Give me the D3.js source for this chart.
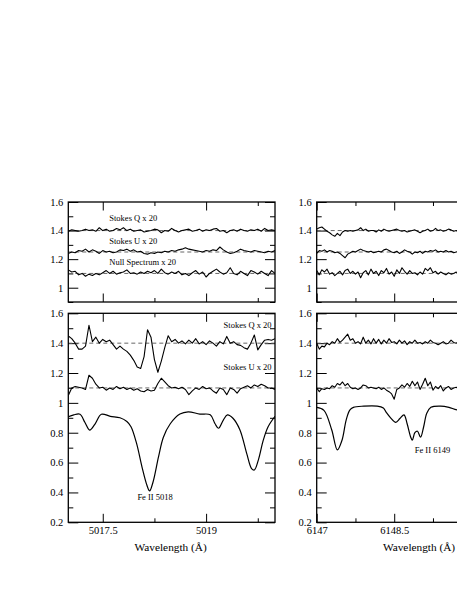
<!DOCTYPE html>
<html><head><meta charset="utf-8">
<script src="https://cdn.jsdelivr.net/npm/d3@7"></script>
<style>html,body{margin:0;padding:0;background:#fff;}svg{display:block;}</style>
</head><body>
<script>
// ---------------- DATA ----------------
// Left panels: Fe II 5018, wavelength grid start 5017.00, step 0.05 A
const leftStart = 5017.0, rightStart = 6147.0, gridStep = 0.05;

const leftTopQ = [1.395,1.405,1.40,1.395,1.40,1.41,1.40,1.405,1.395,1.42,1.40,1.41,1.395,1.40,1.415,1.405,1.42,1.40,1.41,1.395,1.40,1.405,1.39,1.395,1.40,1.41,1.405,1.385,1.40,1.395,1.415,1.40,1.39,1.40,1.405,1.41,1.395,1.40,1.41,1.395,1.405,1.40,1.41,1.415,1.395,1.40,1.385,1.40,1.405,1.395,1.41,1.40,1.395,1.405,1.40,1.41,1.395,1.415,1.40,1.405,1.40];
const leftTopU = [1.24,1.25,1.245,1.26,1.255,1.27,1.25,1.265,1.255,1.24,1.26,1.25,1.255,1.245,1.25,1.265,1.26,1.27,1.255,1.265,1.25,1.255,1.24,1.235,1.245,1.24,1.25,1.245,1.255,1.25,1.26,1.255,1.265,1.27,1.28,1.27,1.265,1.26,1.255,1.25,1.26,1.255,1.265,1.26,1.285,1.265,1.25,1.24,1.245,1.255,1.27,1.26,1.255,1.25,1.26,1.255,1.25,1.245,1.255,1.25,1.26];
const leftTopNull = [1.125,1.11,1.115,1.09,1.10,1.08,1.095,1.085,1.10,1.09,1.105,1.12,1.10,1.115,1.095,1.105,1.11,1.125,1.10,1.105,1.095,1.11,1.10,1.115,1.105,1.12,1.10,1.13,1.105,1.095,1.11,1.10,1.115,1.09,1.10,1.085,1.105,1.12,1.095,1.11,1.075,1.10,1.115,1.13,1.11,1.095,1.105,1.14,1.10,1.09,1.115,1.10,1.085,1.12,1.11,1.095,1.115,1.10,1.085,1.12,1.10];

const leftBotQ = [1.448,1.43,1.40,1.36,1.36,1.38,1.52,1.41,1.44,1.40,1.425,1.41,1.42,1.39,1.36,1.38,1.36,1.345,1.32,1.285,1.24,1.23,1.31,1.49,1.44,1.29,1.205,1.28,1.37,1.45,1.41,1.425,1.40,1.415,1.395,1.42,1.40,1.43,1.395,1.41,1.39,1.415,1.40,1.38,1.41,1.395,1.445,1.40,1.41,1.39,1.385,1.37,1.36,1.40,1.455,1.355,1.39,1.42,1.425,1.42,1.43];
const leftBotU = [1.05,1.10,1.11,1.105,1.10,1.09,1.185,1.165,1.125,1.10,1.105,1.085,1.10,1.09,1.11,1.095,1.105,1.09,1.10,1.085,1.095,1.08,1.075,1.09,1.08,1.085,1.13,1.165,1.14,1.115,1.10,1.105,1.095,1.105,1.09,1.055,1.08,1.10,1.09,1.11,1.095,1.10,1.08,1.065,1.10,1.09,1.055,1.10,1.09,1.065,1.095,1.105,1.115,1.10,1.12,1.11,1.125,1.115,1.10,1.10,1.09];
const leftIntensity = [[5017.00,0.907],[5017.08,0.92],[5017.17,0.924],[5017.24,0.87],[5017.31,0.818],[5017.39,0.86],[5017.48,0.924],[5017.61,0.91],[5017.75,0.90],[5017.85,0.875],[5017.91,0.84],[5017.99,0.73],[5018.07,0.57],[5018.14,0.45],[5018.18,0.41],[5018.23,0.47],[5018.31,0.64],[5018.38,0.77],[5018.48,0.86],[5018.62,0.925],[5018.74,0.94],[5018.91,0.925],[5019.06,0.92],[5019.13,0.86],[5019.18,0.83],[5019.25,0.885],[5019.31,0.92],[5019.39,0.897],[5019.49,0.82],[5019.59,0.66],[5019.66,0.56],[5019.70,0.55],[5019.76,0.62],[5019.83,0.75],[5019.90,0.84],[5020.00,0.91]];

// Right panels: Fe II 6149, grid start 6147.00, step 0.05 A
const rightTopQ = [1.41,1.42,1.425,1.41,1.395,1.385,1.37,1.36,1.38,1.365,1.39,1.40,1.395,1.40,1.395,1.40,1.405,1.42,1.40,1.41,1.395,1.40,1.40,1.39,1.405,1.395,1.41,1.40,1.395,1.40,1.405,1.41,1.40,1.395,1.40,1.39,1.395,1.40,1.405,1.395,1.385,1.395,1.40,1.41,1.395,1.40,1.415,1.40,1.405,1.395,1.40,1.41,1.405,1.395,1.40,1.39,1.40];
const rightTopU = [1.24,1.26,1.255,1.265,1.25,1.26,1.255,1.245,1.25,1.24,1.225,1.21,1.235,1.245,1.255,1.25,1.26,1.27,1.26,1.255,1.25,1.255,1.245,1.25,1.255,1.25,1.265,1.27,1.26,1.25,1.245,1.255,1.24,1.25,1.265,1.255,1.25,1.235,1.25,1.245,1.255,1.24,1.255,1.25,1.26,1.255,1.265,1.25,1.255,1.25,1.26,1.25,1.255,1.245,1.25,1.255,1.25];
const rightTopNull = [1.12,1.09,1.125,1.11,1.13,1.095,1.105,1.085,1.10,1.115,1.09,1.12,1.13,1.10,1.115,1.095,1.11,1.07,1.105,1.12,1.09,1.13,1.10,1.115,1.085,1.12,1.105,1.135,1.095,1.11,1.08,1.125,1.10,1.14,1.115,1.095,1.12,1.10,1.105,1.09,1.11,1.095,1.135,1.12,1.14,1.105,1.115,1.095,1.11,1.10,1.09,1.105,1.095,1.10,1.11,1.09,1.10];

const rightBotQ = [1.40,1.36,1.38,1.375,1.40,1.39,1.41,1.40,1.43,1.405,1.42,1.44,1.46,1.42,1.43,1.40,1.41,1.395,1.44,1.40,1.42,1.395,1.43,1.40,1.425,1.395,1.42,1.40,1.43,1.405,1.41,1.395,1.42,1.40,1.415,1.39,1.41,1.40,1.42,1.40,1.405,1.395,1.41,1.40,1.42,1.405,1.40,1.39,1.40,1.41,1.395,1.40,1.42,1.405,1.40,1.41,1.40];
const rightBotU = [1.10,1.075,1.095,1.09,1.10,1.095,1.115,1.105,1.13,1.12,1.14,1.115,1.13,1.105,1.095,1.10,1.09,1.10,1.12,1.115,1.10,1.105,1.10,1.095,1.105,1.09,1.10,1.085,1.075,1.06,1.025,1.09,1.10,1.12,1.105,1.13,1.11,1.145,1.115,1.14,1.09,1.125,1.165,1.115,1.14,1.085,1.11,1.095,1.115,1.08,1.10,1.11,1.09,1.10,1.105,1.095,1.10];
const rightIntensity = [[6147.00,0.97],[6147.14,0.95],[6147.29,0.82],[6147.40,0.685],[6147.49,0.75],[6147.57,0.885],[6147.64,0.952],[6147.71,0.97],[6147.91,0.978],[6148.17,0.978],[6148.29,0.965],[6148.34,0.94],[6148.43,0.90],[6148.53,0.87],[6148.61,0.895],[6148.69,0.92],[6148.75,0.86],[6148.82,0.77],[6148.85,0.75],[6148.90,0.80],[6148.95,0.81],[6149.01,0.77],[6149.07,0.84],[6149.13,0.93],[6149.21,0.97],[6149.40,0.978],[6149.56,0.97],[6149.73,0.952],[6150.20,0.95],[6151.00,0.95]];

// Tick values
const leftXMajor = [5017.5, 5019], leftXMinor = [5018.25, 5019.75];
const rightXMajor = [6147, 6148.5, 6150], rightXMinor = [6147.75, 6149.25, 6150.75];
const topYMajor = [1, 1.2, 1.4, 1.6], topYMinor = [0.9, 1.1, 1.3, 1.5];
const botYMajor = [0.2, 0.4, 0.6, 0.8, 1, 1.2, 1.4, 1.6], botYMinor = [0.3, 0.5, 0.7, 0.9, 1.1, 1.3, 1.5];
const topRefLines = [1.4, 1.25, 1.1], botRefLines = [1.4, 1.1];

// ---------------- DRAW ----------------
const W = 457, H = 591;
const svg = d3.select("body").append("svg").attr("width", W).attr("height", H)
  .style("font-family", "'Liberation Serif','Times New Roman',serif");
svg.append("rect").attr("width", W).attr("height", H).attr("fill", "#fff");

const fmt = d3.format("~g");
const cols = [{x0: 68.3, x1: 275}, {x0: 316.7, x1: 523.4}];
const rows = [{y0: 202.0, y1: 302, dom: [0.9, 1.6]}, {y0: 313.3, y1: 522.3, dom: [0.2, 1.6]}];

function toPts(start, arr) { return arr.map((v, i) => [start + i * gridStep, v]); }

let clipId = 0;
function panel(col, row, xDom, xMaj, xMin, yMaj, yMin, showX) {
  const x = d3.scaleLinear().domain(xDom).range([col.x0, col.x1]);
  const y = d3.scaleLinear().domain(row.dom).range([row.y1, row.y0]);
  const g = svg.append("g");
  const id = "clip" + (clipId++);
  g.append("clipPath").attr("id", id).append("rect")
    .attr("x", col.x0).attr("y", row.y0).attr("width", col.x1 - col.x0).attr("height", row.y1 - row.y0);
  const axisStyle = sel => { sel.select(".domain").remove(); sel.selectAll("line").attr("stroke", "#000").attr("stroke-width", 1); sel.selectAll("text").attr("fill", "#000").attr("font-family", "'Liberation Serif','Times New Roman',serif"); };
  // only label ticks that land inside the picture
  const xLabel = d => (showX && x(d) + 12 < W) ? fmt(d) : "";
  // bottom
  g.append("g").attr("transform", `translate(0,${row.y1})`)
    .call(d3.axisBottom(x).tickValues(xMaj).tickSize(-8.5).tickPadding(4).tickFormat(xLabel))
    .call(axisStyle).call(s => s.selectAll("text").attr("font-size", 10.5));
  g.append("g").attr("transform", `translate(0,${row.y1})`)
    .call(d3.axisBottom(x).tickValues(xMin).tickSize(-4).tickFormat(() => "")).call(axisStyle);
  // top
  g.append("g").attr("transform", `translate(0,${row.y0})`)
    .call(d3.axisTop(x).tickValues(xMaj).tickSize(-8.5).tickFormat(() => "")).call(axisStyle);
  g.append("g").attr("transform", `translate(0,${row.y0})`)
    .call(d3.axisTop(x).tickValues(xMin).tickSize(-4).tickFormat(() => "")).call(axisStyle);
  // left
  g.append("g").attr("transform", `translate(${col.x0},0)`)
    .call(d3.axisLeft(y).tickValues(yMaj).tickSize(-10).tickPadding(5).tickFormat(fmt))
    .call(axisStyle).call(s => s.selectAll("text").attr("font-size", 10.5));
  g.append("g").attr("transform", `translate(${col.x0},0)`)
    .call(d3.axisLeft(y).tickValues(yMin).tickSize(-5).tickFormat(() => "")).call(axisStyle);
  // right
  g.append("g").attr("transform", `translate(${col.x1},0)`)
    .call(d3.axisRight(y).tickValues(yMaj).tickSize(-10).tickFormat(() => "")).call(axisStyle);
  g.append("g").attr("transform", `translate(${col.x1},0)`)
    .call(d3.axisRight(y).tickValues(yMin).tickSize(-5).tickFormat(() => "")).call(axisStyle);
  const dg = g.append("g").attr("clip-path", `url(#${id})`);
  return {x, y, g, dg};
}

function refLines(p, vals) {
  p.dg.selectAll(null).data(vals).enter().append("line")
    .attr("x1", p.x.range()[0]).attr("x2", p.x.range()[1])
    .attr("y1", d => p.y(d)).attr("y2", d => p.y(d))
    .attr("stroke", "#666").attr("stroke-width", 1).attr("stroke-dasharray", "4,3");
}
function noisy(p, start, arr) {
  const line = d3.line().x(d => p.x(d[0])).y(d => p.y(d[1]));
  p.dg.append("path").attr("d", line(toPts(start, arr))).attr("fill", "none").attr("stroke", "#000").attr("stroke-width", 1.1).attr("stroke-linejoin", "round");
}
function smooth(p, pts) {
  const line = d3.line().x(d => p.x(d[0])).y(d => p.y(d[1])).curve(d3.curveCatmullRom.alpha(0.5));
  p.dg.append("path").attr("d", line(pts)).attr("fill", "none").attr("stroke", "#000").attr("stroke-width", 1.2);
}
function frame(p) {
  const [a, b] = p.x.range(), [c, d] = p.y.range();
  p.g.append("rect").attr("x", a).attr("y", d).attr("width", b - a).attr("height", c - d)
    .attr("fill", "none").attr("stroke", "#000").attr("stroke-width", 1.3);
}
function label(p, xv, yv, txt, anchor) {
  p.g.append("text").attr("x", p.x(xv)).attr("y", p.y(yv)).attr("text-anchor", anchor || "start")
    .attr("font-size", 8.5).attr("fill", "#000").text(txt);
}

// Top-left
const tl = panel(cols[0], rows[0], [5017, 5020], leftXMajor, leftXMinor, topYMajor, topYMinor, false);
refLines(tl, topRefLines);
noisy(tl, leftStart, leftTopQ); noisy(tl, leftStart, leftTopU); noisy(tl, leftStart, leftTopNull);
frame(tl);
label(tl, 5017.595, 1.47, "Stokes Q x 20");
label(tl, 5017.595, 1.304, "Stokes U x 20");
label(tl, 5017.595, 1.157, "Null Spectrum x 20");

// Bottom-left
const bl = panel(cols[0], rows[1], [5017, 5020], leftXMajor, leftXMinor, botYMajor, botYMinor, true);
refLines(bl, botRefLines);
noisy(bl, leftStart, leftBotQ); noisy(bl, leftStart, leftBotU);
smooth(bl, leftIntensity);
frame(bl);
label(bl, 5019.95, 1.503, "Stokes Q x 20", "end");
label(bl, 5019.95, 1.218, "Stokes U x 20", "end");
label(bl, 5018.26, 0.349, "Fe II 5018", "middle");

// Top-right
const tr = panel(cols[1], rows[0], [6147, 6151], rightXMajor, rightXMinor, topYMajor, topYMinor, false);
refLines(tr, topRefLines);
noisy(tr, rightStart, rightTopQ); noisy(tr, rightStart, rightTopU); noisy(tr, rightStart, rightTopNull);
frame(tr);

// Bottom-right
const br = panel(cols[1], rows[1], [6147, 6151], rightXMajor, rightXMinor, botYMajor, botYMinor, true);
refLines(br, botRefLines);
noisy(br, rightStart, rightBotQ); noisy(br, rightStart, rightBotU);
smooth(br, rightIntensity);
frame(br);
label(br, 6149.24, 0.663, "Fe II 6149", "middle");

// Axis titles
[bl, br].forEach(p => {
  const [a, b] = p.x.range();
  svg.append("text").attr("x", (a + b) / 2 - 1).attr("y", 551).attr("text-anchor", "middle")
    .attr("font-size", 11.3).attr("fill", "#000").text("Wavelength (Å)");
});
</script>
</body></html>
